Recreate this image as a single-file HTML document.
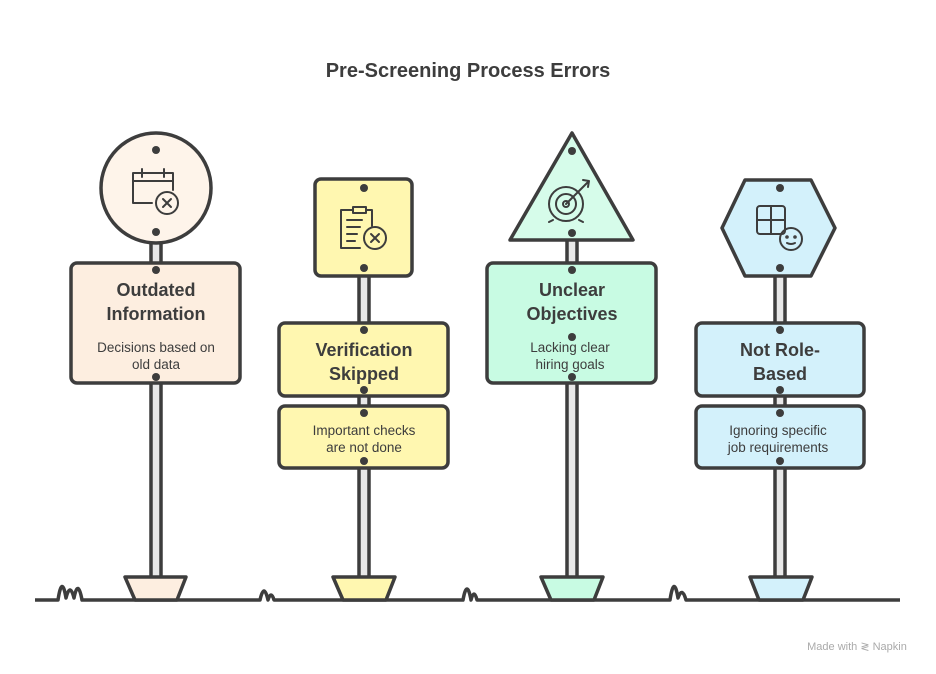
<!DOCTYPE html>
<html><head><meta charset="utf-8"><style>
html,body{margin:0;padding:0;background:#fff;width:936px;height:674px;overflow:hidden}
svg{display:block}
.t{font-family:"Liberation Sans",sans-serif;font-weight:bold;font-size:18px;fill:#3d3d3d;text-anchor:middle}
.d{font-family:"Liberation Sans",sans-serif;font-size:13.5px;fill:#3d3d3d;text-anchor:middle}
.s{stroke:#3d3d3d;stroke-width:3.5;stroke-linejoin:round;fill:none}
.ic{stroke:#3d3d3d;stroke-width:2;fill:none;stroke-linecap:round;stroke-linejoin:round}
</style></head><body>
<svg width="936" height="674" viewBox="0 0 936 674">
<text x="468" y="77" class="t" style="font-size:20px">Pre-Screening Process Errors</text>
<!-- posts -->
<g fill="#e8e8e8" stroke="#3d3d3d" stroke-width="3.5">
<rect x="151" y="240" width="10" height="338"/>
<rect x="359" y="270" width="10" height="308"/>
<rect x="567" y="238" width="10" height="340"/>
<rect x="775" y="272" width="10" height="306"/>
</g>
<!-- ground -->
<path class="s" d="M35 600 H58 Q62 574 66 598 Q70 582 74 598 Q78 578 82 600 H260 Q264 582 268 600 Q271 590 274 600 H463 Q467 578 471 600 Q474 588 477 600 H670 Q674 574 678 598 Q682 586 686 600 H900"/>
<!-- bases -->
<g stroke="#3d3d3d" stroke-width="3.5" stroke-linejoin="round">
<path d="M125 577 H186 L177 600 H135 Z" fill="#fdeee0"/>
<path d="M333 577 H395 L386 600 H343 Z" fill="#fff7b0"/>
<path d="M541 577 H603 L594 600 H551 Z" fill="#c8fbe3"/>
<path d="M750 577 H812 L803 600 H759 Z" fill="#d3f1fb"/>
</g>
<!-- sign 1 -->
<circle cx="156" cy="188" r="55" class="s" style="fill:#fef4ea"/>
<rect x="71" y="263" width="169" height="120" rx="6" class="s" style="fill:#fdeee0"/>
<!-- sign 2 -->
<rect x="315" y="179" width="97" height="97" rx="6" class="s" style="fill:#fff7b0"/>
<rect x="279" y="323" width="169" height="73" rx="6" class="s" style="fill:#fff7b0"/>
<rect x="279" y="406" width="169" height="62" rx="6" class="s" style="fill:#fff7b0"/>
<!-- sign 3 -->
<path d="M572 133 L633 240 H510 Z" class="s" style="fill:#d6fcea"/>
<rect x="487" y="263" width="169" height="120" rx="6" class="s" style="fill:#c8fbe3"/>
<!-- sign 4 -->
<path d="M745 180 H811 L835 228 L811 276 H745 L722 228 Z" class="s" style="fill:#d3f1fb"/>
<rect x="696" y="323" width="168" height="73" rx="6" class="s" style="fill:#d3f1fb"/>
<rect x="696" y="406" width="168" height="62" rx="6" class="s" style="fill:#d3f1fb"/>
<!-- dots -->
<g fill="#3d3d3d">
<circle cx="156" cy="150" r="4"/><circle cx="156" cy="232" r="4"/><circle cx="156" cy="270" r="4"/><circle cx="156" cy="377" r="4"/>
<circle cx="364" cy="188" r="4"/><circle cx="364" cy="268" r="4"/><circle cx="364" cy="330" r="4"/><circle cx="364" cy="390" r="4"/><circle cx="364" cy="413" r="4"/><circle cx="364" cy="461" r="4"/>
<circle cx="572" cy="151" r="4"/><circle cx="572" cy="233" r="4"/><circle cx="572" cy="270" r="4"/><circle cx="572" cy="337" r="4"/><circle cx="572" cy="377" r="4"/>
<circle cx="780" cy="188" r="4"/><circle cx="780" cy="268" r="4"/><circle cx="780" cy="330" r="4"/><circle cx="780" cy="390" r="4"/><circle cx="780" cy="413" r="4"/><circle cx="780" cy="461" r="4"/>
</g>
<!-- icons -->
<g class="ic">
<path d="M152 203 H133 V173 H173 V190"/><path d="M133 181 H173"/><path d="M142 169 V177 M164 169 V177"/><circle cx="167" cy="203" r="11"/><path d="M163 199 L171 207 M171 199 L163 207"/>
<path d="M360 248 H341 V210 H353 M366 210 H372 V226"/><rect x="353" y="207" width="13" height="6"/><path d="M347 220 H362 M347 227 H360 M347 234 H357 M347 241 H355"/><circle cx="375" cy="238" r="11"/><path d="M371 234 L379 242 M379 234 L371 242"/>
<circle cx="566" cy="204" r="17"/><circle cx="566" cy="204" r="10"/><circle cx="566" cy="204" r="3"/><path d="M566 204 L589 181 M583 180 L589 181 L588 187 M553 220 L549 222 M579 220 L583 222"/>
<rect x="757" y="206" width="28" height="28" rx="3"/><path d="M771 206 V234 M757 220 H785"/><circle cx="791" cy="239" r="11"/><circle cx="787" cy="237" r="0.8"/><circle cx="795" cy="237" r="0.8"/><path d="M787 243 Q791 245 795 243"/>
</g>
<!-- text -->
<text x="156" y="296" class="t">Outdated</text>
<text x="156" y="320" class="t">Information</text>
<text x="156" y="352" class="d">Decisions based on</text>
<text x="156" y="369" class="d">old data</text>
<text x="364" y="356" class="t">Verification</text>
<text x="364" y="380" class="t">Skipped</text>
<text x="364" y="435" class="d">Important checks</text>
<text x="364" y="452" class="d">are not done</text>
<text x="572" y="296" class="t">Unclear</text>
<text x="572" y="320" class="t">Objectives</text>
<text x="570" y="352" class="d">Lacking clear</text>
<text x="570" y="369" class="d">hiring goals</text>
<text x="780" y="356" class="t">Not Role-</text>
<text x="780" y="380" class="t">Based</text>
<text x="778" y="435" class="d">Ignoring specific</text>
<text x="778" y="452" class="d">job requirements</text>
<text x="857" y="650" style="font-family:'Liberation Sans',sans-serif;font-size:11px;fill:#aaa;text-anchor:middle">Made with ≷ Napkin</text>
</svg>
</body></html>
